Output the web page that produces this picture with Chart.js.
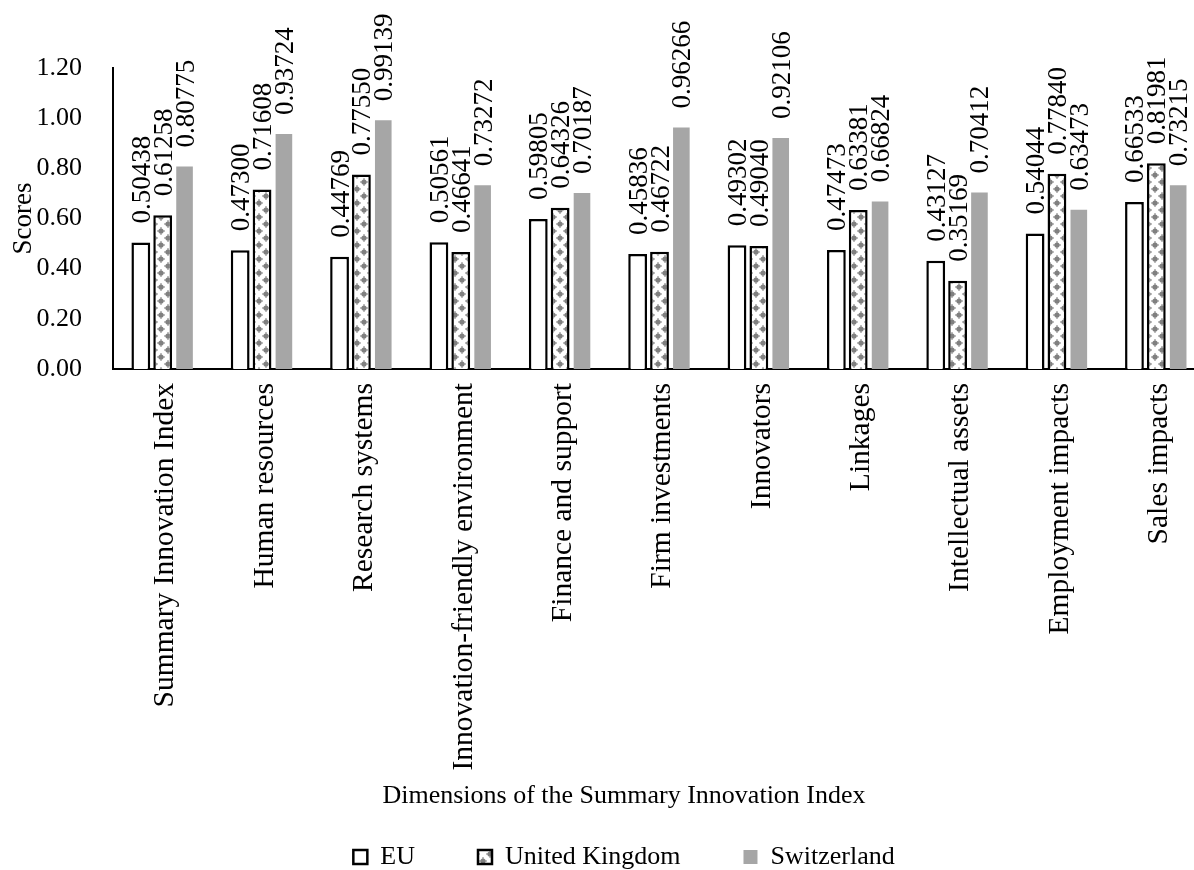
<!DOCTYPE html>
<html>
<head>
<meta charset="utf-8">
<script src="https://cdn.jsdelivr.net/npm/chart.js@4.4.1/dist/chart.umd.min.js"></script>
<style>
  html, body { margin: 0; padding: 0; background: #fff; overflow: hidden; }
  #wrap { width: 1194px; height: 870px; overflow: hidden; position: relative; }
  canvas { display: block; }
</style>
</head>
<body>
<div id="wrap"><canvas id="c" width="1248" height="880"></canvas></div>
<script>
// ---- Data ----
const categories = [
  'Summary Innovation Index', 'Human resources', 'Research systems',
  'Innovation-friendly environment', 'Finance and support', 'Firm investments',
  'Innovators', 'Linkages', 'Intellectual assets', 'Employment impacts', 'Sales impacts'
];
const euValues = [0.50438, 0.47300, 0.44769, 0.50561, 0.59805, 0.45836, 0.49302, 0.47473, 0.43127, 0.54044, 0.66533];
const ukValues = [0.61258, 0.71608, 0.77550, 0.46641, 0.64326, 0.46722, 0.49040, 0.63381, 0.35169, 0.77840, 0.81981];
const chValues = [0.80775, 0.93724, 0.99139, 0.73272, 0.70187, 0.96266, 0.92106, 0.66824, 0.70412, 0.63473, 0.73215];
const seriesNames = ['EU', 'United Kingdom', 'Switzerland'];
const yTickLabels = ['0.00', '0.20', '0.40', '0.60', '0.80', '1.00', '1.20'];
const yTitle = 'Scores';
const xTitle = 'Dimensions of the Summary Innovation Index';

const FAMILY = "'Liberation Serif', 'Times New Roman', serif";

function makePattern() {
  const c = document.createElement('canvas');
  c.width = 14; c.height = 14;
  const g = c.getContext('2d');
  g.fillStyle = '#ffffff';
  g.fillRect(0, 0, 14, 14);
  g.fillStyle = '#808080';
  const blob = (x, y) => {
    g.beginPath(); g.arc(x, y, 2.6, 0, Math.PI * 2); g.fill();
    g.fillRect(x - 0.5, y - 4, 1, 8);
    g.fillRect(x - 4, y - 0.5, 8, 1);
  };
  blob(7, 7); blob(0, 0); blob(14, 0); blob(0, 14); blob(14, 14);
  return g.createPattern(c, 'repeat');
}
const ukPattern = makePattern();

const valueLabels = {
  id: 'valueLabels',
  afterDatasetsDraw(chart) {
    const ctx = chart.ctx;
    ctx.save();
    ctx.font = '27px ' + FAMILY;
    ctx.fillStyle = '#000';
    ctx.textAlign = 'left';
    ctx.textBaseline = 'alphabetic';
    chart.data.datasets.forEach((ds, i) => {
      const meta = chart.getDatasetMeta(i);
      meta.data.forEach((el, j) => {
        const v = ds.data[j];
        ctx.save();
        ctx.translate(el.x + 9, el.y - 19);
        ctx.rotate(-Math.PI / 2);
        ctx.fillText(v.toFixed(5), 0, 0);
        ctx.restore();
      });
    });
    ctx.restore();
  }
};

new Chart(document.getElementById('c'), {
  type: 'bar',
  data: {
    labels: categories,
    datasets: [
      { label: seriesNames[0], data: euValues, backgroundColor: '#ffffff', borderColor: '#000000', borderWidth: 2.5, barPercentage: 0.86, categoryPercentage: 0.66 },
      { label: seriesNames[1], data: ukValues, backgroundColor: ukPattern, borderColor: '#000000', borderWidth: 2.5, barPercentage: 0.86, categoryPercentage: 0.66 },
      { label: seriesNames[2], data: chValues, backgroundColor: '#a6a6a6', borderColor: '#a6a6a6', borderWidth: 0, barPercentage: 0.76, categoryPercentage: 0.66 }
    ]
  },
  options: {
    responsive: false,
    animation: false,
    devicePixelRatio: 1,
    layout: { padding: { top: 68, left: 0, right: 0, bottom: 0 } },
    scales: {
      x: {
        grid: { display: false, drawTicks: false },
        border: { display: true, color: '#000', width: 2 },
        ticks: {
          color: '#000', font: { family: FAMILY, size: 29.5 },
          minRotation: 90, maxRotation: 90, autoSkip: false, padding: 14, labelOffset: 3
        },
        afterFit(s) { s.height = 411.4; }
      },
      y: {
        min: 0, max: 1.2,
        grid: { display: false, drawTicks: false },
        border: { display: true, color: '#000', width: 2 },
        ticks: {
          stepSize: 0.2, color: '#000', font: { family: FAMILY, size: 26 }, padding: 31,
          callback: (v, i) => yTickLabels[i] !== undefined ? yTickLabels[i] : Number(v).toFixed(2)
        },
        title: { display: true, text: yTitle, color: '#000', font: { family: FAMILY, size: 27 }, padding: { top: 8, bottom: 0 } },
        afterFit(s) { s.width = 113; }
      },
      y2: {
        position: 'right', display: true,
        grid: { display: false, drawTicks: false },
        border: { display: false },
        ticks: { display: false },
        afterFit(s) { s.width = 42; }
      }
    },
    plugins: {
      tooltip: { enabled: false },
      title: {
        display: true, text: xTitle, position: 'bottom', weight: 500, fullSize: true,
        color: '#000', font: { family: FAMILY, size: 26, weight: 'normal', lineHeight: 1.2 },
        padding: { top: 0, bottom: -30.6 }
      },
      legend: {
        position: 'bottom', align: 'center',
        labels: {
          color: '#000', font: { family: FAMILY, size: 26 },
          boxWidth: 14, boxHeight: 14, padding: 63
        }
      }
    }
  },
  plugins: [valueLabels]
});
</script>
</body>
</html>
